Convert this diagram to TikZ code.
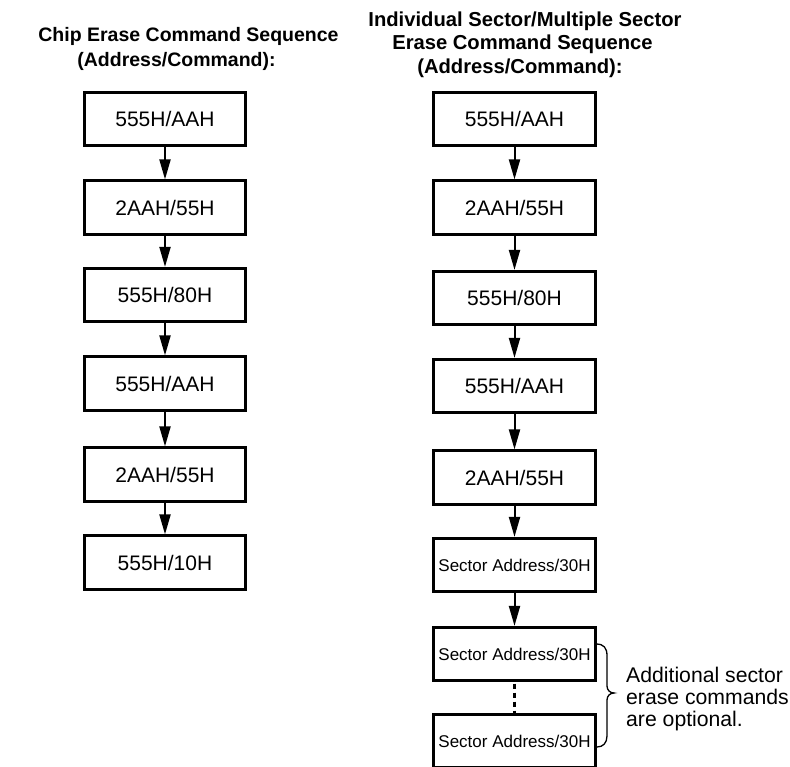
\documentclass[tikz,border=0pt]{standalone}
\usepackage{fontspec}
\setmainfont{Liberation Sans}
\usetikzlibrary{arrows.meta}
\begin{document}
\begin{tikzpicture}[x=1pt,y=-1pt,
  cmdbox/.style={draw,line width=2.7pt,minimum width=161.5pt,minimum height=53.5pt,inner sep=0pt,font=\fontsize{21}{24}\selectfont},
  secbox/.style={cmdbox,font=\fontsize{17}{20}\selectfont},
  title/.style={anchor=base,inner sep=0pt,font=\bfseries\fontsize{19.5}{24}\selectfont},
  titler/.style={title,font=\bfseries\fontsize{20.2}{24}\selectfont},
  flow/.style={line width=2pt,-{Triangle[length=20pt,width=11pt]}},
  brace/.style={line width=1.3pt}]
\useasboundingbox (0,0) rectangle (790,767);
\clip (0,0) rectangle (790,767);
% titles
\node[title] (tl1) at (188.5,42) {Chip Erase Command Sequence};
\node[title] (tl2) at (176.5,66.5) {(Address/Command):};
\node[titler] (tr1) at (525,26.5) {Individual Sector/Multiple Sector};
\node[titler] (tr2) at (522.5,50) {Erase Command Sequence};
\node[titler] (tr3) at (520,73.5) {(Address/Command):};
% left column
\node[cmdbox] (l1) at (165,119) {555H/AAH};
\node[cmdbox] (l2) at (165,207.5) {2AAH/55H};
\node[cmdbox] (l3) at (165,295) {555H/80H};
\node[cmdbox] (l4) at (165,383.5) {555H/AAH};
\node[cmdbox] (l5) at (165,474.5) {2AAH/55H};
\node[cmdbox] (l6) at (165,562.5) {555H/10H};
\foreach \a/\b in {l1/l2,l2/l3,l3/l4,l4/l5,l5/l6}
  \draw[flow] (\a.south) -- (\b.north);
% right column
\node[cmdbox] (r1) at (514.5,119) {555H/AAH};
\node[cmdbox] (r2) at (514.5,207.5) {2AAH/55H};
\node[cmdbox] (r3) at (514.5,298) {555H/80H};
\node[cmdbox] (r4) at (514.5,386) {555H/AAH};
\node[cmdbox] (r5) at (514.5,477.5) {2AAH/55H};
\node[secbox] (s1) at (514.5,565) {Sector Address/30H};
\node[secbox] (s2) at (514.5,654) {Sector Address/30H};
\node[secbox] (s3) at (514.5,741) {Sector Address/30H};
\foreach \a/\b in {r1/r2,r2/r3,r3/r4,r4/r5,r5/s1,s1/s2}
  \draw[flow] (\a.south) -- (\b.north);
\draw[line width=2.2pt,dash pattern=on 5.5pt off 3.5pt] ([yshift=-1.5pt]s2.south) -- ([yshift=-5pt]s3.north);
% brace
\coordinate (bt) at (596,644);
\coordinate (bb) at (597,747);
\draw[brace] (bt) .. controls (604,644) and (607,648) .. (607,656) -- (607,686)
  .. controls (607,690) and (610,693) .. (614,693)
  .. controls (610,693) and (607,696) .. (607,700) -- (607,736)
  .. controls (607,743) and (603,747) .. (bb);
\node[anchor=base west,align=left,inner sep=0pt,font=\fontsize{21.2}{22}\selectfont] (note) at (626,726) {Additional sector\\erase commands\\are optional.};
\end{tikzpicture}
\end{document}
